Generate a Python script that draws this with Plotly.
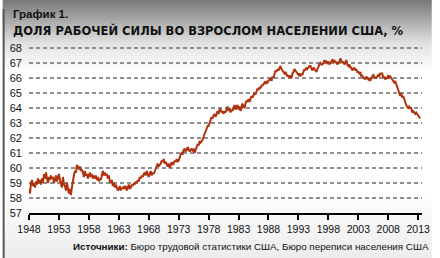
import plotly.graph_objects as go

start_year = 1948
per_year = 6
lfpr = [
    58.6, 58.3, 59.0, 59.2, 58.8, 59.0,
    58.7, 59.1, 58.9, 59.3, 59.0, 59.2,
    58.9, 59.3, 59.0, 59.6, 59.3, 59.7,
    59.3, 59.0, 59.4, 59.2, 59.5, 59.3,
    59.4, 59.0, 59.2, 59.5, 59.1, 59.3,
    59.6, 59.2, 59.0, 58.7, 59.4, 58.9,
    58.8, 58.5, 59.0, 58.7, 58.3, 58.6,
    58.2, 58.7, 59.2, 59.5, 59.8, 59.7,
    60.2, 60.1, 59.9, 60.1, 59.8, 59.9,
    59.7, 59.4, 59.8, 59.5, 59.6, 59.3,
    59.5, 59.7, 59.4, 59.6, 59.3, 59.5,
    59.3, 59.5, 59.2, 59.4, 59.1, 59.3,
    59.2, 59.6, 59.8, 59.5, 59.7, 59.5,
    59.6, 59.3, 59.5, 59.1, 59.0, 59.2,
    58.8, 59.0, 58.7, 58.9, 58.6, 58.5,
    58.6, 58.8, 58.5, 58.7, 58.6, 58.8,
    58.6, 58.8, 58.5, 58.7, 58.9, 58.6,
    58.7, 58.9, 58.8, 59.0, 58.9, 59.1,
    59.0, 59.2, 59.1, 59.4, 59.3, 59.5,
    59.4, 59.6, 59.7, 59.5, 59.8, 59.6,
    59.4, 59.6, 59.8, 59.5, 59.7, 59.6,
    59.8, 60.0, 60.1, 60.3, 60.1, 60.2,
    60.3, 60.5, 60.4, 60.6, 60.3, 60.4,
    60.2, 60.1, 60.3, 60.0, 60.2, 60.4,
    60.2, 60.3, 60.5, 60.4, 60.6, 60.4,
    60.5, 60.8, 60.9, 61.0, 60.9, 61.2,
    61.3, 61.1, 61.2, 61.4, 61.2, 61.1,
    61.2, 61.3, 61.1, 61.3, 61.0, 61.2,
    61.4, 61.6, 61.5, 61.8, 61.7, 61.8,
    61.9, 62.1, 62.3, 62.4, 62.6, 62.8,
    62.8, 63.1, 63.2, 63.4, 63.3, 63.5,
    63.6, 63.4, 63.7, 63.8, 63.6, 63.9,
    63.9, 63.7, 63.8, 63.6, 63.8, 63.7,
    63.9, 64.1, 63.8, 64.0, 63.7, 63.9,
    63.8, 64.0, 64.2, 63.9, 64.1, 64.2,
    63.9, 64.1, 63.8, 64.0, 64.3, 64.1,
    64.0, 64.3, 64.5, 64.4, 64.6, 64.4,
    64.6, 64.8, 64.7, 64.9, 65.0, 64.9,
    65.1, 65.3, 65.2, 65.4, 65.3, 65.5,
    65.5, 65.6, 65.7, 65.6, 65.8, 65.7,
    65.8, 65.9, 66.0, 65.8, 66.1, 66.0,
    66.3, 66.5, 66.4, 66.6, 66.5, 66.7,
    66.8, 66.6, 66.5, 66.4, 66.3, 66.4,
    66.2, 66.1, 66.2, 66.0, 66.1, 66.0,
    66.3, 66.4, 66.6, 66.5, 66.4, 66.3,
    66.2, 66.3, 66.1, 66.3, 66.2, 66.4,
    66.6, 66.5, 66.7, 66.6, 66.7, 66.8,
    66.8, 66.6, 66.5, 66.7, 66.6, 66.5,
    66.4, 66.6, 66.8, 66.9, 67.0, 66.9,
    66.9, 67.0, 67.2, 67.0, 67.1, 67.0,
    67.1, 66.9, 67.0, 67.1, 67.2, 67.1,
    67.2, 67.0, 67.1, 66.9, 67.0, 67.1,
    67.3, 67.1, 67.0, 67.1, 66.9, 67.0,
    67.2, 66.9, 66.8, 66.9, 66.7, 66.7,
    66.5, 66.6, 66.7, 66.5, 66.6, 66.4,
    66.4, 66.3, 66.4, 66.1, 66.2, 66.0,
    66.0, 65.9, 66.1, 66.0, 65.9, 66.0,
    65.8, 66.0, 66.1, 66.2, 66.1, 66.0,
    66.0, 66.1, 66.2, 66.1, 66.3, 66.3,
    66.3, 66.0, 66.1, 65.9, 66.0, 66.0,
    66.2, 66.0, 66.1, 66.0, 65.9, 65.8,
    65.7, 65.8, 65.6, 65.3, 65.1, 64.9,
    64.8, 65.0, 64.7, 64.8, 64.5, 64.4,
    64.2, 64.1, 64.0, 64.1, 64.0, 64.0,
    63.7, 63.8, 63.7, 63.6, 63.7, 63.6,
    63.5, 63.4, 63.3,
]
years = [start_year + i / per_year for i in range(len(lfpr))]

tick_years = [1948, 1953, 1958, 1963, 1968, 1973, 1978, 1983, 1988, 1993, 1998, 2003, 2008, 2013]
y_ticks = list(range(57, 69))

title1 = "График 1."
title2 = "ДОЛЯ РАБОЧЕЙ СИЛЫ ВО ВЗРОСЛОМ НАСЕЛЕНИИ США, %"
source = "<b>Источники:</b> Бюро трудовой статистики США, Бюро переписи населения США"

W, H = 440, 258
L, R, T, B = 27, 430, 46, 213


def px(x):
    return (x - L) / (R - L)


def py(y):
    return (B - y) / (B - T)


def lerp(c1, c2, t):
    return tuple(int(round(a + (b - a) * t)) for a, b in zip(c1, c2))


stops = [(0, (122, 122, 122)), (20, (170, 170, 170)), (42, (225, 225, 225)),
         (70, (255, 255, 255)), (190, (255, 255, 255)), (258, (236, 236, 236))]
shapes = []
step = 2
for y in range(0, H, step):
    for (y0, c0), (y1, c1) in zip(stops, stops[1:]):
        if y0 <= y <= y1:
            c = lerp(c0, c1, (y - y0) / (y1 - y0))
            break
    col = "rgb(%d,%d,%d)" % c
    shapes.append(dict(type="rect", xref="paper", yref="paper", layer="below",
                       x0=px(0), x1=px(W), y0=py(y + step), y1=py(y),
                       fillcolor=col, line=dict(width=0)))
shapes.append(dict(type="rect", xref="paper", yref="paper", layer="above",
                   x0=px(0), x1=px(2), y0=py(H), y1=py(9),
                   fillcolor="#555555", line=dict(width=0)))

fig = go.Figure()
fig.add_trace(go.Scatter(x=years, y=lfpr, mode="lines",
                         line=dict(color="#b0320e", width=2), hoverinfo="skip"))

narrow = "Liberation Sans Narrow, Arial Narrow, Liberation Sans, Arial"
fig.update_layout(
    width=W, height=H,
    margin=dict(l=L, r=W - R, t=T, b=H - B, pad=0),
    paper_bgcolor="rgba(0,0,0,0)", plot_bgcolor="rgba(0,0,0,0)",
    showlegend=False,
    shapes=shapes,
    xaxis=dict(range=[1948, 2013.64], tickmode="array", tickvals=tick_years,
               ticktext=[str(t) for t in tick_years], showgrid=False,
               showline=True, linecolor="black", linewidth=2,
               ticks="outside", ticklen=5, tickwidth=2, tickcolor="black",
               tickfont=dict(family=narrow, size=10.5, color="#111"), zeroline=False),
    yaxis=dict(range=[57, 57 + (B - T) / 15.0], tickmode="array", tickvals=y_ticks,
               showgrid=True, gridcolor="#8f8f8f", gridwidth=1.5, griddash="4px,3px",
               showline=False, zeroline=False, ticks="", ticklabelstandoff=6,
               tickfont=dict(family=narrow, size=11, color="#111")),
    annotations=[
        dict(text="<b>" + title1 + "</b>", xref="paper", yref="paper",
             x=px(9), y=py(6), xanchor="left", yanchor="top", showarrow=False,
             font=dict(family="Liberation Sans, Arial", size=11.5, color="#111")),
        dict(text="<b>" + title2 + "</b>", xref="paper", yref="paper",
             x=px(9), y=py(21), xanchor="left", yanchor="top", showarrow=False,
             font=dict(family="DejaVu Sans", size=11.5, color="#111")),
        dict(text=source, xref="paper", yref="paper",
             x=px(70), y=py(239), xanchor="left", yanchor="top", showarrow=False,
             font=dict(family="Liberation Sans, Arial", size=9.8, color="#111")),
    ],
)
fig.write_html("out.html")
